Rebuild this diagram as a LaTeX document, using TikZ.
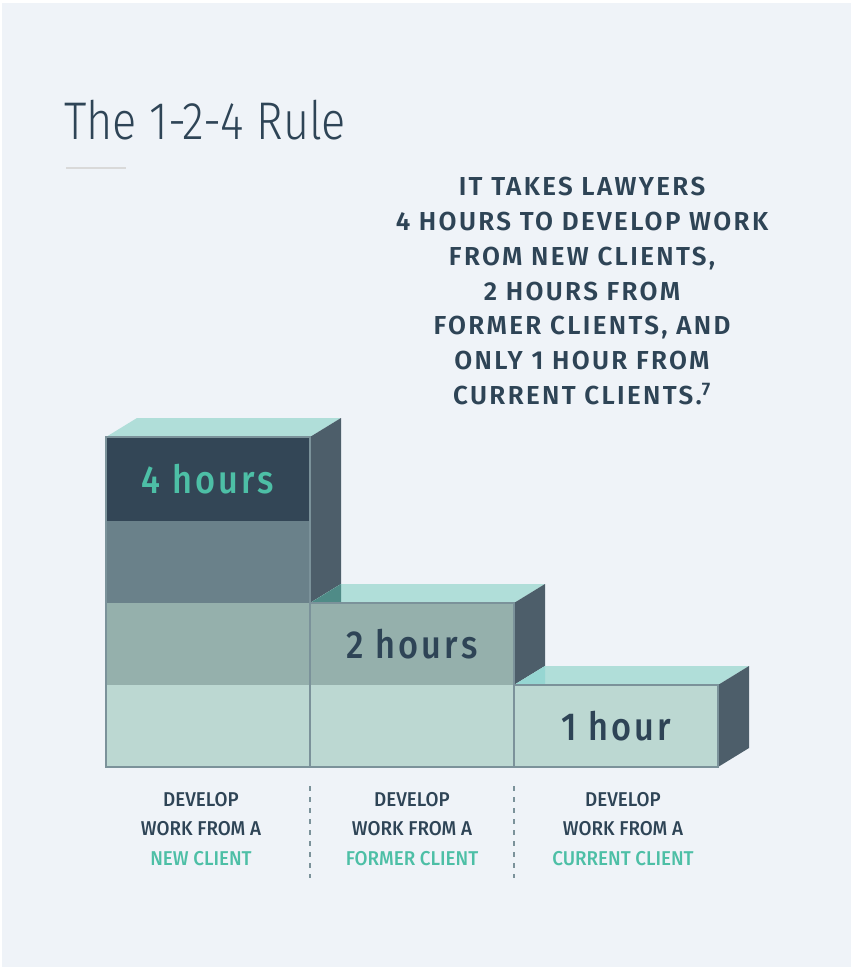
\documentclass[tikz,border=0pt]{standalone}
\usepackage{fontspec}
\setmainfont{Fira Sans}
\newfontfamily\titlefont{Fira Sans Light}[FakeStretch=0.85]
\newfontfamily\leadfont{Fira Sans SemiBold}[LetterSpace=9]
\newfontfamily\hourfont{Fira Sans Medium}[LetterSpace=8,FakeStretch=0.88]
\newfontfamily\capfont{Fira Sans Medium}[FakeStretch=0.94]
\usepackage{tikz}
\usetikzlibrary{positioning}
\definecolor{panel}{HTML}{EFF3F8}
\definecolor{ink}{HTML}{2E4456}
\definecolor{mint}{HTML}{4DBFA6}
\definecolor{layerA}{HTML}{BCD8D2}
\definecolor{layerB}{HTML}{95B0AC}
\definecolor{layerC}{HTML}{6A818A}
\definecolor{layerD}{HTML}{334656}
\definecolor{topface}{HTML}{B0DED9}
\definecolor{sideface}{HTML}{4D5E6A}
\definecolor{shadeA}{HTML}{4F8B87}
\definecolor{shadeB}{HTML}{96D6D2}
\definecolor{edge}{HTML}{7B929A}

\begin{document}
\begin{tikzpicture}[x=1pt,y=-1pt,
    layer/.style={minimum width=204pt, minimum height=82pt, inner sep=0pt, outer sep=0pt},
    hours/.style={font=\hourfont\fontsize{39}{39}\selectfont},
    caption/.style={align=center, text=ink, font=\capfont\fontsize{20}{29.5}\selectfont}]
	\useasboundingbox (0,0) rectangle (851,969);
	\fill[white] (0,0) rectangle (851,969);
	\fill[panel] (2,3) rectangle (851,967);

	% title
	\node[anchor=base west, inner sep=0pt, text=ink, font=\titlefont\fontsize{53}{53}\selectfont] (title) at (64,139) {The 1-2-4 Rule};
	\draw[draw=black!15, line width=1.5pt] (66,168) -- (126,168);

	\node[anchor=north, align=center, text=ink, font=\leadfont\fontsize{26}{34.7}\selectfont] (claim) at (582,174)
		{IT TAKES LAWYERS\\4 HOURS TO DEVELOP WORK\\FROM NEW CLIENTS,\\2 HOURS FROM\\FORMER CLIENTS, AND\\ONLY 1 HOUR FROM\\CURRENT CLIENTS.\textsuperscript{7}};

	% front faces
	\node[layer, fill=layerA] (newA) at (208,726) {};
	\node[layer, fill=layerB, above=0pt of newA] (newB) {};
	\node[layer, fill=layerC, above=0pt of newB] (newC) {};
	\node[layer, fill=layerD, minimum height=84pt, above=0pt of newC, hours, text=mint] (newD) {4 hours};
	\node[layer, fill=layerA, right=0pt of newA] (formerA) {};
	\node[layer, fill=layerB, above=0pt of formerA, hours, text=ink] (formerB) {2 hours};
	\node[layer, fill=layerA, right=0pt of formerA, hours, text=ink] (currentA) {1 hour};

	% tops and sides
	\fill[topface] (newD.north west) -- ++(31,-19) -- ++(204,0) -- (newD.north east) -- cycle;
	\fill[sideface] (newD.north east) -- ++(31,-19) -- ++(0,166) -- (newB.north east) -- cycle;
	\fill[topface] (formerB.north west) -- ++(31,-19) -- ++(204,0) -- (formerB.north east) -- cycle;
	\fill[shadeA] (formerB.north west) -- ++(31,-19) -- ++(0,19) -- cycle;
	\fill[sideface] (formerB.north east) -- ++(31,-19) -- ++(0,82) -- (formerA.north east) -- cycle;
	\fill[topface] (currentA.north west) -- ++(31,-19) -- ++(204,0) -- (currentA.north east) -- cycle;
	\fill[shadeB] (currentA.north west) -- ++(31,-19) -- ++(0,19) -- cycle;
	\fill[sideface] (currentA.north east) -- ++(31,-19) -- ++(0,82) -- (currentA.south east) -- cycle;

	\draw[edge, line width=1.2pt] (newA.south west) rectangle (newD.north east);
	\draw[edge, line width=1.2pt] (formerA.south west) rectangle (formerB.north east);
	\draw[edge, line width=1.2pt] (currentA.south west) rectangle (currentA.north east);

	% captions
	\node[caption] (capNew) at (201,829) {DEVELOP\\WORK FROM A\\\textcolor{mint}{NEW CLIENT}};
	\node[caption] (capFormer) at (412,829) {DEVELOP\\WORK FROM A\\\textcolor{mint}{FORMER CLIENT}};
	\node[caption] (capCurrent) at (623,829) {DEVELOP\\WORK FROM A\\\textcolor{mint}{CURRENT CLIENT}};

	\coordinate (cutA) at (310,786);
	\coordinate (cutB) at (514,786);
	\draw[edge, line width=1.3pt, dash pattern=on 5pt off 6pt] (cutA) -- ++(0,92);
	\draw[edge, line width=1.3pt, dash pattern=on 5pt off 6pt] (cutB) -- ++(0,92);
\end{tikzpicture}
\end{document}
